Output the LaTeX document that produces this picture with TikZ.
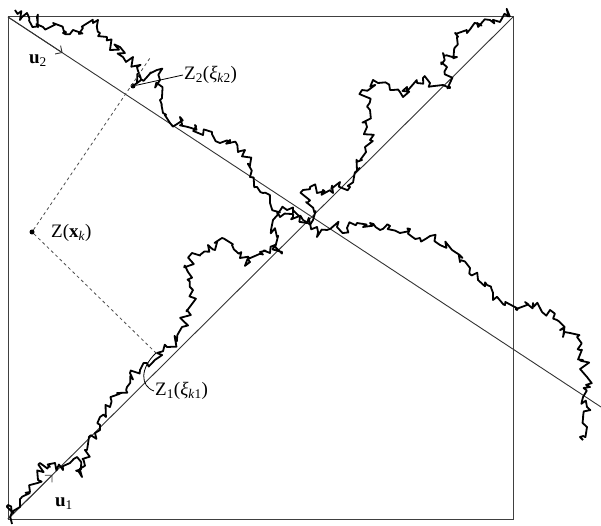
\documentclass[tikz,border=0pt]{standalone}
\usepackage{fontspec}
\setmainfont{Liberation Serif}
\usetikzlibrary{calc, arrows.meta, decorations.pathmorphing}

\begin{document}
\begin{tikzpicture}[x = 1pt, y = -1pt, every node/.style={font = \fontsize{19}{22}\selectfont, inner sep = 1pt}, frame/.style={line width = 1pt, black!75}, axis/.style={line width = 0.9pt, black!80}, walk/.style={line width = 1.8pt, line join = round, decorate, decoration={random steps, segment length = 4pt, amplitude = 5.5pt}}, proj/.style={line width = 0.8pt, black!70, dash pattern = on 3pt off 3pt}, dot/.style={circle, fill, inner sep = 0pt, minimum size = 5pt}, >={Straight Barb[length = 5pt, width = 10pt]}]

  \useasboundingbox (0, 0) rectangle (601, 526);

  \coordinate (sw) at (8, 519);
  \coordinate (ne) at (513, 17);
  \coordinate (nw) at (8, 17);
  \coordinate (u2end) at (601, 407);

  \draw [frame] (sw) rectangle (ne);

  % directions u1 and u2
  \draw [axis] (sw) -- (ne);
  \draw [axis] (nw) -- (u2end);
  \draw [axis, ->] (sw) -- ($(sw)!0.088!(ne)$);
  \draw [axis, ->] (nw) -- ($(nw)!0.092!(u2end)$);

  \node (u1) at (64, 504) { \textbf{u}\textsubscript{1} };
  \node (u2) at (38, 61) { \textbf{u}\textsubscript{2} };

  % walk along u1
  \pgfmathsetseed{11}
  \draw [walk] (12, 524) -- (8, 505) -- (13, 513) -- (20, 507) -- (30, 492) -- (38, 480) -- (40, 463) -- (50, 467) -- (55, 463) -- (63, 470) -- (70, 463) -- (77, 457) -- (82, 477) -- (87, 450) -- (95, 433) -- (100, 430) -- (100, 417) -- (110, 407) -- (117, 393) -- (127, 387) -- (130, 373) -- (140, 370) -- (147, 363) -- (157, 353) -- (167, 347) -- (177, 340) -- (182, 327) -- (187, 310) -- (193, 290) -- (188, 272) -- (192, 253) -- (200, 255) -- (208, 245) -- (215, 250) -- (222, 238) -- (232, 245) -- (240, 258) -- (250, 262) -- (260, 252) -- (270, 253) -- (275, 245) -- (282, 252) -- (277, 237) -- (273, 220) -- (280, 217) -- (293, 217) -- (303, 220) -- (313, 220) -- (307, 203) -- (303, 190) -- (310, 187) -- (317, 193) -- (323, 190) -- (333, 193) -- (340, 182) -- (350, 187) -- (357, 170) -- (362, 160) -- (365, 147) -- (370, 140) -- (367, 127) -- (370, 110) -- (362, 90) -- (373, 80) -- (378, 83) -- (390, 90) -- (403, 97) -- (407, 87) -- (417, 83) -- (423, 78) -- (430, 83) -- (443, 85) -- (450, 87) -- (447, 67) -- (443, 53) -- (457, 57) -- (455, 33) -- (467, 33) -- (477, 23) -- (490, 20) -- (500, 22) -- (507, 10) -- (510, 17);

  % walk along u2
  \draw [walk] (15, 10) -- (20, 20) -- (27, 13) -- (33, 27) -- (37, 17) -- (43, 27) -- (53, 23) -- (63, 33) -- (73, 30) -- (83, 28) -- (93, 23) -- (98, 20) -- (100, 33) -- (107, 37) -- (110, 50) -- (120, 47) -- (123, 57) -- (133, 57) -- (137, 67) -- (137, 83) -- (133, 86) -- (147, 77) -- (157, 70) -- (160, 80) -- (160, 100) -- (163, 113) -- (170, 123) -- (180, 117) -- (188, 127) -- (195, 125) -- (203, 135) -- (212, 132) -- (220, 143) -- (230, 140) -- (238, 152) -- (245, 150) -- (250, 165) -- (250, 177) -- (257, 187) -- (263, 193) -- (270, 203) -- (277, 213) -- (287, 210) -- (293, 213) -- (300, 217) -- (307, 223) -- (317, 227) -- (317, 237) -- (327, 230) -- (337, 227) -- (347, 228) -- (357, 223) -- (363, 227) -- (370, 223) -- (380, 230) -- (390, 226) -- (400, 233) -- (410, 229) -- (420, 238) -- (430, 236) -- (440, 245) -- (452, 250) -- (460, 262) -- (470, 268) -- (478, 280) -- (487, 285) -- (493, 300) -- (505, 305) -- (517, 310) -- (525, 302) -- (533, 303) -- (542, 312) -- (550, 310) -- (557, 320) -- (560, 330) -- (563, 337) -- (570, 333) -- (577, 337) -- (580, 350) -- (583, 360) -- (587, 377) -- (590, 387) -- (583, 397) -- (587, 407) -- (583, 417) -- (587, 427) -- (580, 437) -- (583, 440);

  % projections of Z(x_k)
  \node [dot] (zx) at (32, 232) {};
  \node [anchor = west] (zxlab) at (50, 233) { Z(\textbf{x}\textsubscript{\textit{k}}) };

  \node [dot, minimum size = 5pt] (z2) at (133, 86) {};
  \coordinate (z2far) at (150, 58);
  \coordinate (z1) at (156, 353);

  \draw [proj] (zx) -- (z2far);
  \draw [proj] (zx) -- (z1);

  \node [anchor = west] (z2lab) at (183, 75) { Z\textsubscript{2}(\textit{ξ}\textsubscript{\textit{k}2}) };
  \node [anchor = west] (z1lab) at (154, 391) { Z\textsubscript{1}(\textit{ξ}\textsubscript{\textit{k}1}) };

  \draw [line width = 0.8pt] (z2lab.west) -- (z2);
  \draw [line width = 0.8pt] (z1lab.west) .. controls (140, 386) and (140, 368) .. (z1);

\end{tikzpicture}
\end{document}
